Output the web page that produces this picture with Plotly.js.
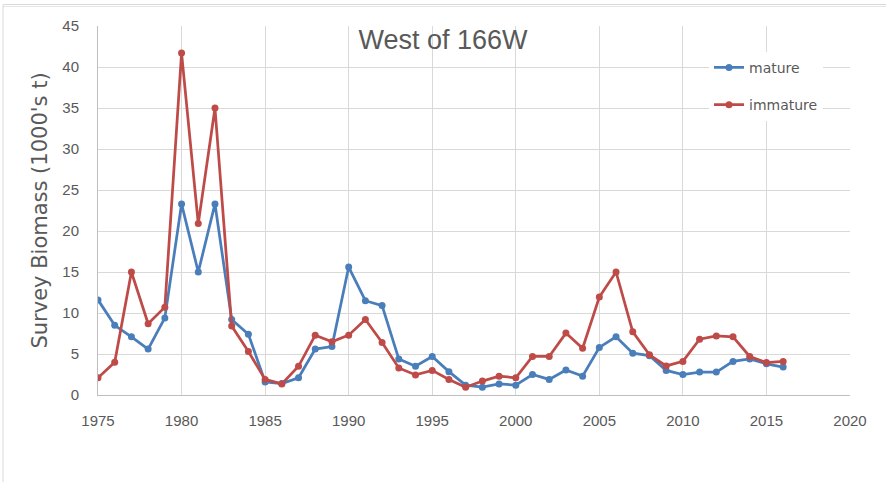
<!DOCTYPE html>
<html>
<head>
<meta charset="utf-8">
<script src="https://cdn.plot.ly/plotly-3.0.1.min.js"></script>
<style>html,body{margin:0;padding:0;background:#fff;}#chart{width:886px;height:482px;}</style>
</head>
<body>
<div id="chart"></div>
<script>
const years = [1975,1976,1977,1978,1979,1980,1981,1982,1983,1984,1985,1986,1987,1988,1989,1990,1991,1992,1993,1994,1995,1996,1997,1998,1999,2000,2001,2002,2003,2004,2005,2006,2007,2008,2009,2010,2011,2012,2013,2014,2015,2016];
const mature = [11.6,8.5,7.1,5.6,9.4,23.3,15.0,23.3,9.2,7.4,1.6,1.4,2.1,5.6,5.9,15.6,11.5,10.9,4.4,3.5,4.7,2.85,1.2,0.95,1.35,1.2,2.5,1.9,3.05,2.3,5.8,7.1,5.1,4.8,3.0,2.5,2.8,2.8,4.1,4.4,3.8,3.4];
const immature = [2.1,4.0,15.0,8.7,10.7,41.7,20.9,35.0,8.4,5.3,1.9,1.35,3.5,7.3,6.5,7.3,9.2,6.4,3.3,2.45,3.0,1.9,0.95,1.7,2.3,2.1,4.7,4.7,7.55,5.7,11.95,15.0,7.7,4.9,3.55,4.1,6.8,7.2,7.1,4.7,3.95,4.1];
const seriesNames = ['mature','immature'];
const chartTitle = 'West of 166W';
const yTitle = "Survey Biomass (1000's t)";

const blue = '#4A7EBB', red = '#BE4B48';
const traces = [
  {x: years, y: mature, name: seriesNames[0], type: 'scatter', mode: 'lines+markers', legendgroup: 'a',
   line: {color: blue, width: 2.75}, marker: {color: blue, size: 7}},
  {x: years, y: immature, name: seriesNames[1], type: 'scatter', mode: 'lines+markers', legendgroup: 'b',
   line: {color: red, width: 2.75}, marker: {color: red, size: 7}}
];
const grid = '#d9d9d9';
const layout = {
  width: 886, height: 482,
  margin: {l: 98, r: 36, t: 26, b: 87},
  paper_bgcolor: '#fff', plot_bgcolor: '#fff',
  font: {family: 'Liberation Sans, Arial, sans-serif', color: '#595959'},
  title: {text: chartTitle, x: 0.5, xref: 'container', xanchor: 'center', y: 1 - 40/482, yanchor: 'middle', yref: 'container',
          font: {size: 27, color: '#595959', family: 'Liberation Sans, Arial, sans-serif'}},
  showlegend: true,
  legend: {x: 0.8125, xanchor: 'left', y: 0.93, yanchor: 'top', bgcolor: '#fff', borderwidth: 0,
           tracegroupgap: 16, font: {family: 'DejaVu Sans, sans-serif', size: 14, color: '#595959'}},
  xaxis: {range: [1975, 2020], dtick: 5, tick0: 1975, showgrid: true, gridcolor: grid, gridwidth: 1,
          zeroline: false, showline: true, linecolor: '#bfbfbf', linewidth: 1, mirror: false,
          ticks: 'outside', ticklen: 12, tickcolor: 'rgba(0,0,0,0)', tickfont: {size: 15, color: '#595959'}},
  yaxis: {range: [0, 45], dtick: 5, tick0: 0, showgrid: true, gridcolor: grid, gridwidth: 1,
          zeroline: false, showline: true, linecolor: '#bfbfbf', linewidth: 1,
          ticks: 'outside', ticklen: 15, tickcolor: 'rgba(0,0,0,0)', tickfont: {size: 15, color: '#595959'},
          title: {text: yTitle, standoff: 8, font: {family: 'DejaVu Sans, sans-serif', size: 21, color: '#595959'}}},
  shapes: [
    {type: 'line', xref: 'paper', yref: 'paper', x0: -0.1263, x1: 1.05, y0: (395-4.5)/369, y1: (395-4.5)/369, line: {color: '#d9d9d9', width: 1}},
    {type: 'line', xref: 'paper', yref: 'paper', x0: -0.1263, x1: 1.05, y0: (395-6.5)/369, y1: (395-6.5)/369, line: {color: '#e6e6e6', width: 1}},
    {type: 'line', xref: 'paper', yref: 'paper', x0: -0.1263, x1: -0.1263, y0: (395-5)/369, y1: -0.3, line: {color: '#d9d9d9', width: 1}}
  ]
};
Plotly.newPlot('chart', traces, layout, {displayModeBar: false, staticPlot: true});
</script>
</body>
</html>
